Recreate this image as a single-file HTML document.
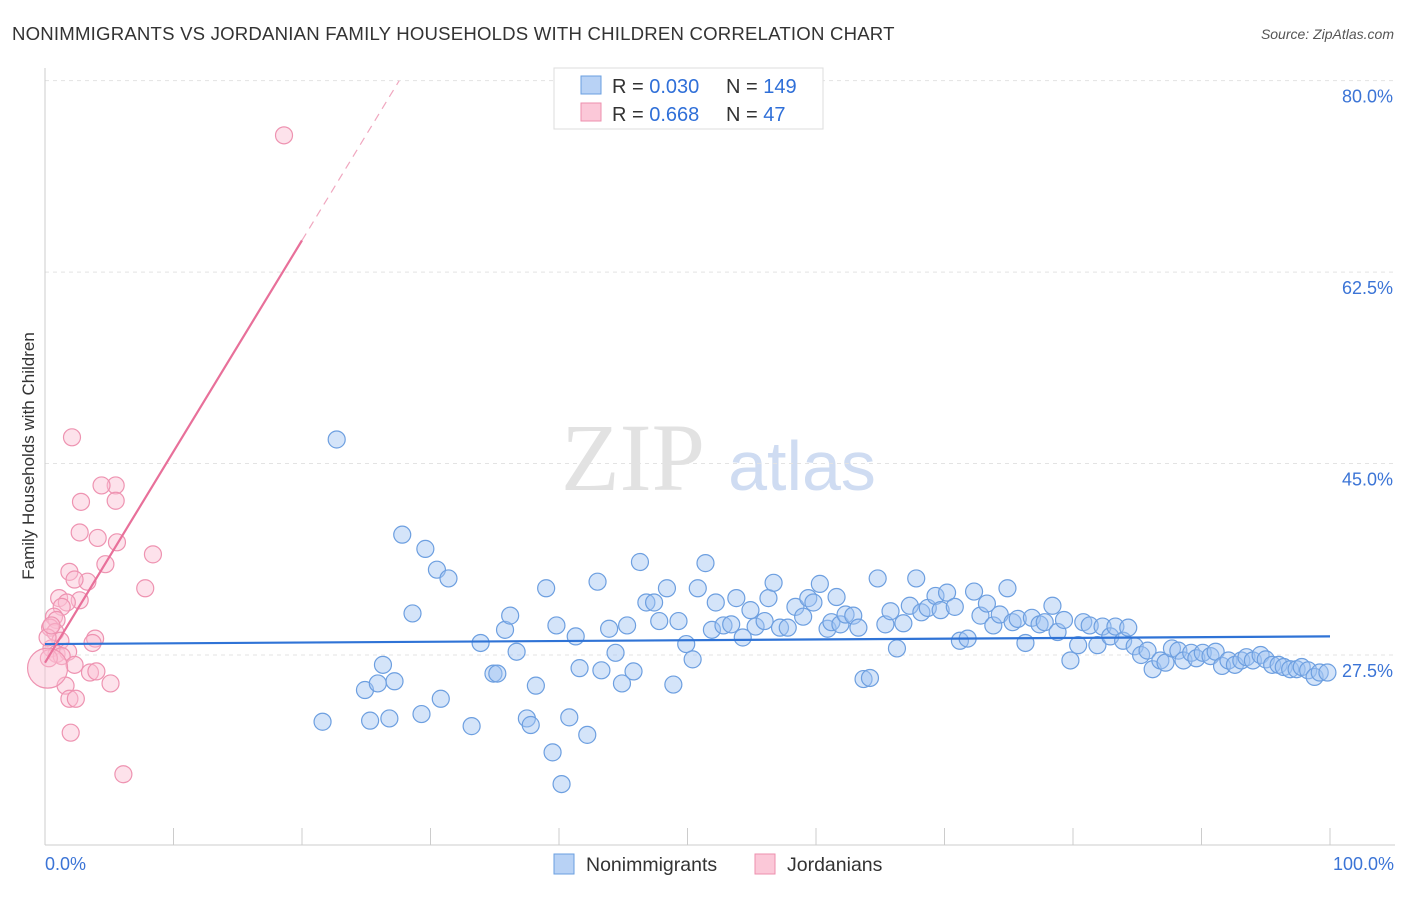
<!DOCTYPE html>
<html><head><meta charset="utf-8"><style>
body{margin:0;background:#fff;font-family:"Liberation Sans",sans-serif;}
svg text{font-family:"Liberation Sans",sans-serif;}
</style></head><body>
<svg width="1406" height="892" viewBox="0 0 1406 892" id="chart">
<text x="12" y="40" font-size="18.6" fill="#333" letter-spacing="0.2">NONIMMIGRANTS VS JORDANIAN FAMILY HOUSEHOLDS WITH CHILDREN CORRELATION CHART</text>
<text x="1394" y="39" font-size="14" fill="#555" text-anchor="end" font-style="italic">Source: ZipAtlas.com</text>
<g>
<text x="633" y="490" font-size="96" fill="#e2e2e2" text-anchor="middle" font-family="Liberation Serif" style="font-family:'Liberation Serif',serif">ZIP</text>
<text x="802" y="490" font-size="70" fill="#cfdcf2" text-anchor="middle">atlas</text>
</g>
<g id="grid"></g>
<g id="axes"></g>
<g id="marks"></g>
<text transform="translate(34,456) rotate(-90)" font-size="17" fill="#333" text-anchor="middle">Family Households with Children</text>
<g>
<rect x="554" y="68" width="269" height="61" fill="#fff" stroke="#ddd"/>
<rect x="581" y="76" width="20" height="18" fill="#b8d2f5" stroke="#6a9fe0"/>
<rect x="581" y="103" width="20" height="18" fill="#fbc8d8" stroke="#ee8fae"/>
<text x="612" y="93" font-size="20" fill="#333">R = <tspan fill="#2f6fd8">0.030</tspan></text>
<text x="726" y="93" font-size="20" fill="#333">N = <tspan fill="#2f6fd8">149</tspan></text>
<text x="612" y="121" font-size="20" fill="#333">R = <tspan fill="#2f6fd8"> 0.668</tspan></text>
<text x="726" y="121" font-size="20" fill="#333">N = <tspan fill="#2f6fd8">  47</tspan></text>
</g>
<g>
<rect x="554" y="854" width="20" height="20" fill="#b8d2f5" stroke="#6a9fe0"/>
<text x="586" y="871" font-size="19.5" fill="#333">Nonimmigrants</text>
<rect x="755" y="854" width="20" height="20" fill="#fbc8d8" stroke="#ee8fae"/>
<text x="787" y="871" font-size="19.5" fill="#333">Jordanians</text>
</g>
</svg>
<script>
const yTicks=[27.5,45,62.5,80];
const yTickLabels=["27.5%","45.0%","62.5%","80.0%"];
const xTickLabels=["0.0%","100.0%"];
const blueX=[22.7,27.8,29.6,30.5,31.4,28.6,21.6,24.9,25.9,26.3,27.2,25.3,26.8,29.3,30.8,33.2,33.9,34.9,35.2,35.8,36.2,36.7,37.5,37.8,38.2,39.0,39.5,39.8,40.2,40.8,41.3,41.6,42.2,43.0,43.3,43.9,44.4,44.9,45.3,45.8,46.3,46.8,47.4,47.8,48.4,48.9,49.3,49.9,50.4,50.8,51.4,51.9,52.2,52.8,53.4,53.8,54.3,54.9,55.3,56.0,56.3,56.7,57.2,57.8,58.4,59.0,59.4,59.8,60.3,60.9,61.2,61.6,61.9,62.3,62.9,63.3,63.7,64.2,64.8,65.4,65.8,66.3,66.8,67.3,67.8,68.2,68.7,69.3,69.7,70.2,70.8,71.2,71.8,72.3,72.8,73.3,73.8,74.3,74.9,75.3,75.7,76.3,76.8,77.4,77.8,78.4,78.8,79.3,79.8,80.4,80.8,81.3,81.9,82.3,82.9,83.3,83.9,84.3,84.8,85.3,85.8,86.2,86.8,87.2,87.7,88.2,88.6,89.2,89.6,90.1,90.7,91.1,91.6,92.1,92.6,93.1,93.5,94.0,94.6,95.0,95.5,96.0,96.4,96.9,97.4,97.8,98.3,98.8,99.2,99.8];
const blueY=[47.2,38.5,37.2,35.3,34.5,31.3,21.4,24.3,24.9,26.6,25.1,21.5,21.7,22.1,23.5,21.0,28.6,25.8,25.8,29.8,31.1,27.8,21.7,21.1,24.7,33.6,18.6,30.2,15.7,21.8,29.2,26.3,20.2,34.2,26.1,29.9,27.7,24.9,30.2,26.0,36.0,32.3,32.3,30.6,33.6,24.8,30.6,28.5,27.1,33.6,35.9,29.8,32.3,30.2,30.3,32.7,29.1,31.6,30.1,30.6,32.7,34.1,30.0,30.0,31.9,31.0,32.7,32.3,34.0,29.9,30.5,32.8,30.3,31.2,31.1,30.0,25.3,25.4,34.5,30.3,31.5,28.1,30.4,32.0,34.5,31.4,31.8,32.9,31.6,33.2,31.9,28.8,29.0,33.3,31.1,32.2,30.2,31.2,33.6,30.5,30.8,28.6,30.9,30.3,30.5,32.0,29.6,30.7,27.0,28.4,30.5,30.2,28.4,30.1,29.2,30.1,28.8,30.0,28.3,27.5,27.9,26.2,27.0,26.8,28.1,27.9,27.0,27.7,27.2,27.7,27.4,27.8,26.5,27.0,26.6,27.0,27.3,27.0,27.5,27.1,26.6,26.6,26.4,26.2,26.2,26.4,26.1,25.5,25.9,25.9];
const pinkX=[18.6,2.1,5.5,2.8,4.4,5.5,2.7,4.1,5.6,8.4,4.7,1.9,3.3,2.3,7.8,1.1,2.7,1.7,1.3,0.7,0.9,0.4,0.8,1.2,3.9,3.7,0.5,0.9,1.8,1.3,2.3,3.5,4.0,5.1,1.6,1.9,2.4,2.0,6.1,0.3,0.2,0.5];
const pinkY=[75.0,47.4,43.0,41.5,43.0,41.6,38.7,38.2,37.8,36.7,35.8,35.1,34.2,34.4,33.6,32.7,32.5,32.3,31.9,31.0,30.7,30.0,29.6,28.8,29.0,28.6,28.1,27.6,27.8,27.4,26.6,25.9,26.0,24.9,24.7,23.5,23.5,20.4,16.6,27.2,29.1,30.2];
const bigPink=[[0.2,26.3]];
const blueTrend=[28.5,29.2];
const pinkTrend=[26.8,1.93];
const NS="http://www.w3.org/2000/svg";
const xs=v=>45+12.85*v, ys=v=>655-10.94*(v-27.5);
function mk(tag,attrs,parent){const e=document.createElementNS(NS,tag);for(const k in attrs)e.setAttribute(k,attrs[k]);document.getElementById(parent).appendChild(e);return e;}
yTicks.forEach((t,i)=>{
 const l=mk('line',{x1:45,x2:1395,y1:ys(t),y2:ys(t),stroke:'#e3e3e3','stroke-dasharray':'4,4'},'grid');
 
 
 const tx=mk('text',{x:1393,y:ys(t)+22,'font-size':18,fill:'#3b74d6','text-anchor':'end'},'grid');
 tx.textContent=yTickLabels[i];
 
 
});
const ax=mk('line',{x1:45,x2:1395,y1:845,y2:845,stroke:'#ccc'},'axes');


const ay=mk('line',{x1:45,x2:45,y1:68,y2:845,stroke:'#ccc'},'axes');


for(let i=1;i<=10;i++){const t=mk('line',{x1:xs(i*10),x2:xs(i*10),y1:828,y2:845,stroke:'#ccc'},'axes');
 
 }
[[0,'start',45],[100,'end',1394]].forEach((d,i)=>{const t=mk('text',{x:d[2],y:870,'font-size':18,fill:'#3b74d6','text-anchor':d[1]},'axes');t.textContent=xTickLabels[i];
 
 });
blueX.forEach((x,i)=>{const c=mk('circle',{cx:xs(x),cy:ys(blueY[i]),r:8.5,fill:'rgba(160,196,242,0.45)',stroke:'#6d9fe0','stroke-width':1.2},'marks');
 
 });
pinkX.forEach((x,i)=>{const c=mk('circle',{cx:xs(x),cy:ys(pinkY[i]),r:8.5,fill:'rgba(250,190,210,0.45)',stroke:'#ee93b1','stroke-width':1.2},'marks');
 
 });
bigPink.forEach(p=>{const c=mk('circle',{cx:xs(p[0]),cy:ys(p[1]),r:20,fill:'rgba(250,190,210,0.45)',stroke:'#ee93b1','stroke-width':1.2},'marks');
 
 });
const bl=mk('line',{x1:xs(0),y1:ys(blueTrend[0]),x2:xs(100),y2:ys(blueTrend[1]),stroke:'#2f73d6','stroke-width':2.2},'marks');


const pEnd=20, pTop=(80-pinkTrend[0])/pinkTrend[1];
const pl=mk('line',{x1:xs(0),y1:ys(pinkTrend[0]),x2:xs(pEnd),y2:ys(pinkTrend[0]+pinkTrend[1]*pEnd),stroke:'#e8709a','stroke-width':2.2},'marks');


const pd=mk('line',{x1:xs(pEnd),y1:ys(pinkTrend[0]+pinkTrend[1]*pEnd),x2:xs(pTop),y2:ys(80),stroke:'#f0a7bf','stroke-width':1.2,'stroke-dasharray':'8,6'},'marks');


</script>
</body></html>
